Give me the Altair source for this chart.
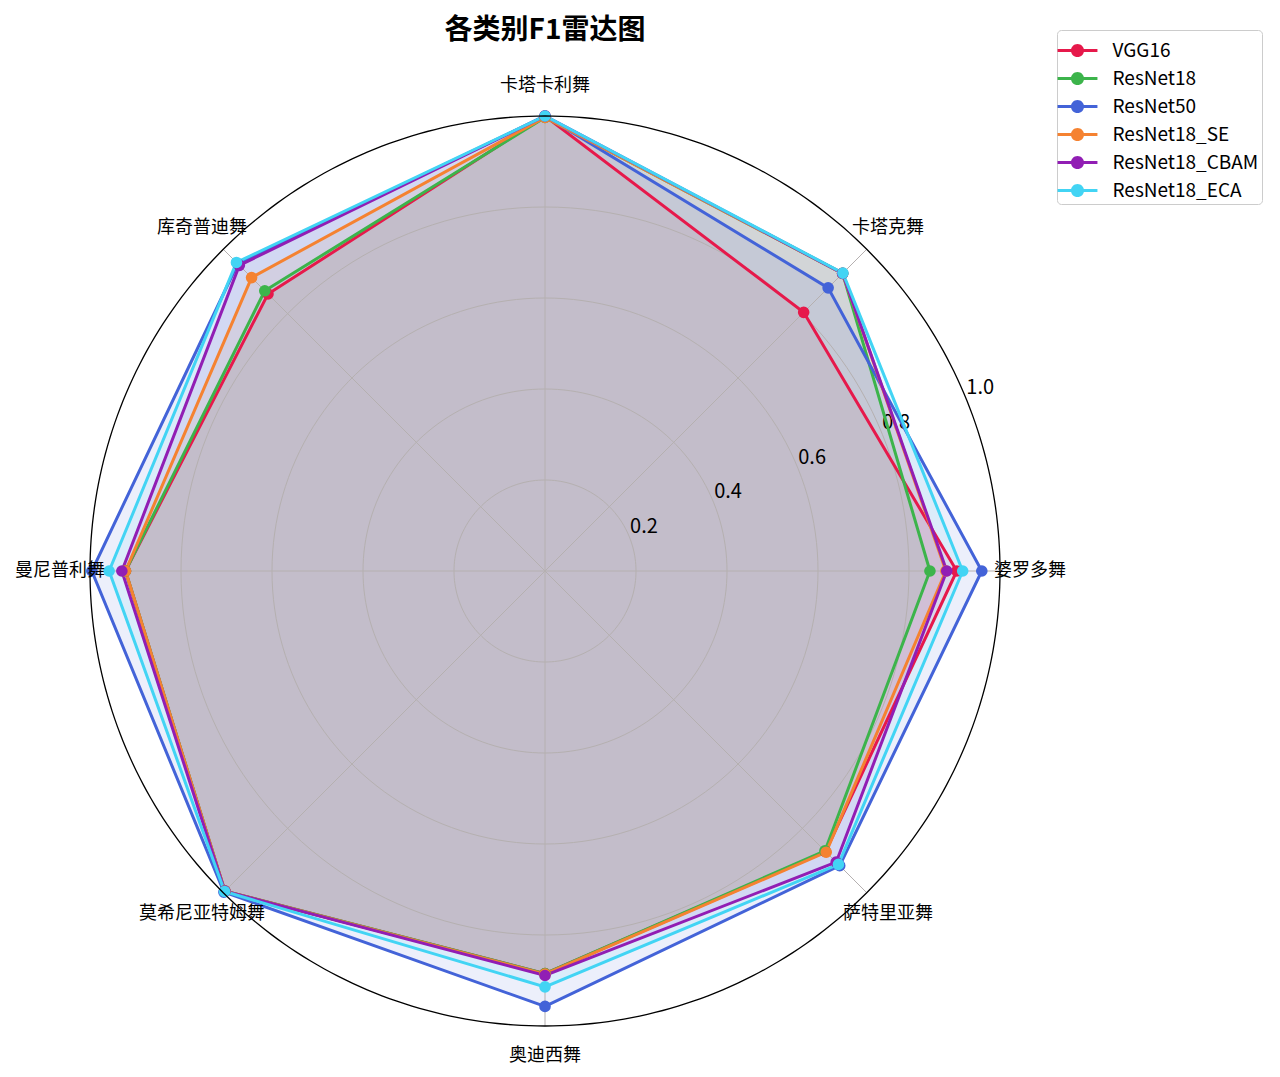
import altair as alt
import pandas as pd

# ---------------- data ----------------
categories = ["婆罗多舞", "卡塔克舞", "卡塔卡利舞", "库奇普迪舞",
              "曼尼普利舞", "莫希尼亚特姆舞", "奥迪西舞", "萨特里亚舞"]
models = ["VGG16", "ResNet18", "ResNet50", "ResNet18_SE", "ResNet18_CBAM", "ResNet18_ECA"]
colors = ["#e6194b", "#3cb44b", "#4363d8", "#f58231", "#911eb4", "#42d4f4"]

vgg16 = [0.905, 0.804, 1.000, 0.861, 0.922, 0.995, 0.885, 0.872]
resnet18 = [0.846, 0.925, 0.997, 0.871, 0.922, 0.995, 0.885, 0.870]
resnet50 = [0.960, 0.880, 1.000, 0.955, 0.996, 0.998, 0.957, 0.916]
resnet18_se = [0.881, 0.925, 0.997, 0.912, 0.922, 0.995, 0.886, 0.874]
resnet18_cbam = [0.883, 0.925, 1.000, 0.950, 0.930, 0.995, 0.889, 0.905]
resnet18_eca = [0.918, 0.926, 1.000, 0.959, 0.958, 0.996, 0.914, 0.912]
series_values = [vgg16, resnet18, resnet50, resnet18_se, resnet18_cbam, resnet18_eca]

ring_values = [0.2, 0.4, 0.6, 0.8]
outer_ring = [1.0]
tick_values = [0.2, 0.4, 0.6, 0.8, 1.0]
tick_labels = ["0.2", "0.4", "0.6", "0.8", "1.0"]

title_text = ["各类别F1雷达图"]
FONT = "Noto Sans CJK SC"

rows = []
for mi, (m, vals) in enumerate(zip(models, series_values)):
    for i, (c, v) in enumerate(zip(categories, vals)):
        rows.append({"model": m, "category": c, "idx": i, "value": v, "mi": mi})
df = pd.DataFrame(rows)
cat_df = pd.DataFrame({"category": categories, "idx": list(range(len(categories)))})
ring_df = pd.DataFrame({"r": ring_values})
outer_df = pd.DataFrame({"r": outer_ring})
tick_df = pd.DataFrame({"r": tick_values, "label": tick_labels})
title_df = pd.DataFrame({"t": title_text})

N = len(categories)

# ---------------- layout ----------------
W, H = 1258, 1052
CX, CY, R = 537, 557, 455
xdom = [-CX / R, (W - CX) / R]
ydom = [-(H - CY) / R, CY / R]
xs = alt.Scale(domain=xdom, nice=False, zero=False)
ys = alt.Scale(domain=ydom, nice=False, zero=False)
cscale = alt.Scale(domain=models, range=colors)


def X(f):
    return alt.X(f, type="quantitative", scale=xs, axis=None)


def Y(f):
    return alt.Y(f, type="quantitative", scale=ys, axis=None)


ang = f"2*PI*datum.idx/{N}"

base = alt.Chart(df).transform_calculate(
    ang=ang
).transform_calculate(
    x="datum.value*cos(datum.ang)", y="datum.value*sin(datum.ang)"
)

fills = base.mark_line(interpolate="linear-closed", strokeOpacity=0, fillOpacity=0.1).encode(
    x=X("x"), y=Y("y"),
    fill=alt.Fill("model:N", scale=cscale, legend=None),
    detail="model:N",
    order=alt.Order("idx:Q"),
)

rings = alt.Chart(ring_df).transform_calculate(
    deg="sequence(0, 361, 2)"
).transform_flatten(["deg"]).transform_calculate(
    x="datum.r*cos(datum.deg*PI/180)", y="datum.r*sin(datum.deg*PI/180)"
).mark_line(color="#b5b0b0", strokeWidth=1).encode(
    x=X("x"), y=Y("y"), detail="r:Q", order=alt.Order("deg:Q")
)

outer = alt.Chart(outer_df).transform_calculate(
    deg="sequence(0, 361, 1)"
).transform_flatten(["deg"]).transform_calculate(
    x="datum.r*cos(datum.deg*PI/180)", y="datum.r*sin(datum.deg*PI/180)"
).mark_line(color="black", strokeWidth=1.3).encode(
    x=X("x"), y=Y("y"), detail="r:Q", order=alt.Order("deg:Q")
)

spokes = alt.Chart(cat_df).transform_calculate(
    ang=ang
).transform_calculate(
    ex="cos(datum.ang)", ey="sin(datum.ang)", zx="0", zy="0"
).mark_rule(color="#b5b0b0", strokeWidth=1).encode(
    x=X("zx"), y=Y("zy"), x2="ex:Q", y2="ey:Q"
)

cat_labels = alt.Chart(cat_df).transform_calculate(
    ang=ang
).transform_calculate(
    lx="1.066*cos(datum.ang)", ly="1.066*sin(datum.ang)"
).mark_text(font=FONT, fontSize=18, color="black", align="center", baseline="middle").encode(
    x=X("lx"), y=Y("ly"), text="category:N"
)

tick_text = alt.Chart(tick_df).transform_calculate(
    tx="datum.r*cos(PI/8)", ty="datum.r*sin(PI/8)"
).mark_text(font=FONT, fontSize=20, color="black", align="left", baseline="alphabetic",
            dx=1, dy=-3).encode(
    x=X("tx"), y=Y("ty"), text="label:N"
)

title = alt.Chart(title_df).mark_text(
    font=FONT, fontSize=28, fontWeight="bold", color="black",
    align="center", baseline="middle"
).encode(
    x=alt.value(CX), y=alt.value(17), text="t:N"
)

LEGEND_SYMBOL = ("M-1.14,-0.085L1.14,-0.085L1.14,0.085L-1.14,0.085Z"
                 "M0.375,0A0.375,0.375,0,1,1,-0.375,0A0.375,0.375,0,1,1,0.375,0Z")

lines = base.mark_line(interpolate="linear-closed", strokeWidth=3).encode(
    x=X("x"), y=Y("y"),
    color=alt.Color("model:N", scale=cscale, legend=None),
    detail="model:N",
    order=alt.Order("idx:Q"),
)

points = base.mark_circle(size=135, opacity=1).encode(
    x=X("x"), y=Y("y"),
    color=alt.Color(
        "model:N", scale=cscale,
        legend=alt.Legend(
            title=None, orient="none", legendX=1049, legendY=16,
            symbolType=LEGEND_SYMBOL, symbolSize=1225, symbolStrokeWidth=0,
            symbolOpacity=1,
            labelFont=FONT, labelFontSize=19, labelColor="black",
            labelOffset=17.5, rowPadding=0,
            strokeColor="#cccccc", fillColor="white", padding=3, cornerRadius=4,
        ),
    ),
    order=alt.Order("mi:Q"),
)

chart = alt.layer(
    fills, rings, spokes, tick_text, lines, points, outer, cat_labels, title
).resolve_legend(
    color="independent", fill="independent"
).properties(
    width=W, height=H,
    autosize=alt.AutoSizeParams(type="none"),
    padding={"left": 0, "right": 0, "top": 6, "bottom": 0},
).configure_view(strokeWidth=0)

chart.save("out.html", embed_options={"renderer": "svg", "actions": False})
